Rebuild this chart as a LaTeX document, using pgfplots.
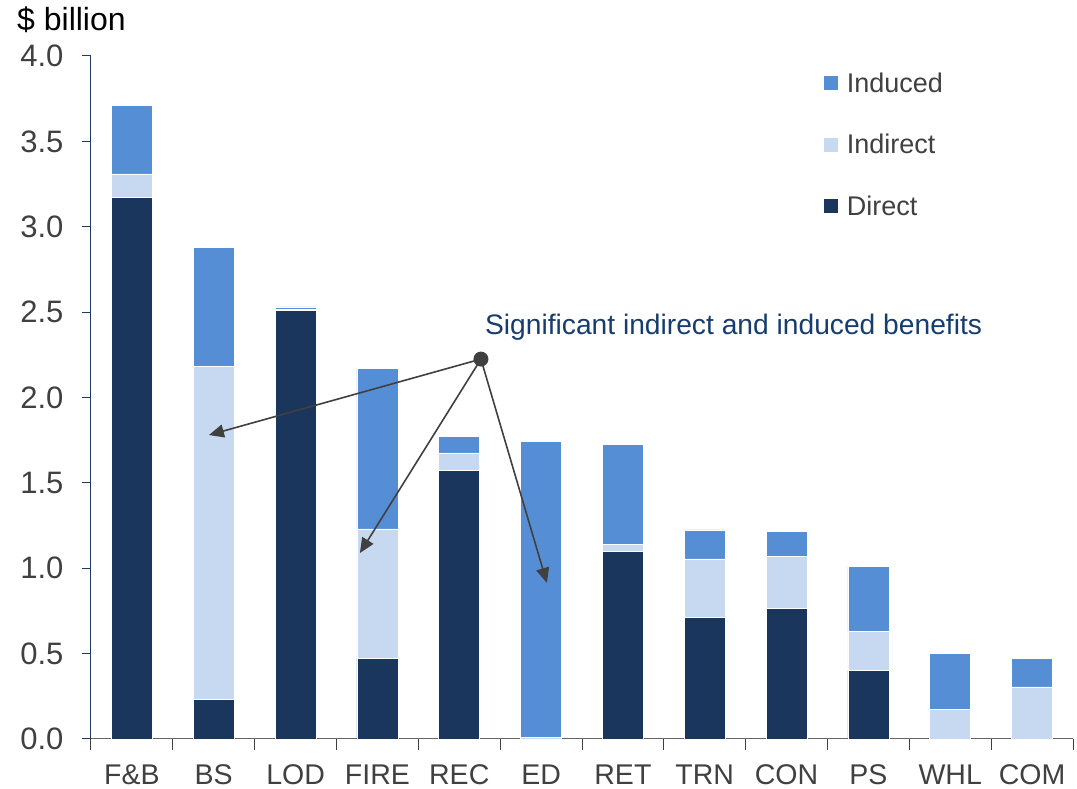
\documentclass[border=0pt]{standalone}
\usepackage{pgfplots}
\pgfplotsset{compat=1.18}
\usepackage{pgfplotstable}
\usepackage{fontspec}
\setmainfont{Liberation Sans}
\usetikzlibrary{arrows.meta}
\definecolor{cDirect}{RGB}{26,54,93}
\definecolor{cIndirect}{RGB}{198,217,240}
\definecolor{cInduced}{RGB}{85,142,213}
\definecolor{cText}{RGB}{64,64,64}
\definecolor{cAnn}{RGB}{23,60,110}
\definecolor{cYaxis}{RGB}{31,58,95}
\pgfplotstableread{
x direct indirect induced
0 3.17 0.14 0.40
1 0.23 1.95 0.70
2 2.51 0.005 0.015
3 0.47 0.76 0.94
4 1.575 0.10 0.095
5 0 0.01 1.735
6 1.10 0.04 0.585
7 0.71 0.345 0.17
8 0.765 0.305 0.145
9 0.40 0.23 0.38
10 0 0.175 0.325
11 0 0.305 0.165
}\datatable
\begin{document}
\begin{tikzpicture}
\begin{axis}[
  at={(0,0)}, anchor=south west,
  scale only axis, width=982pt, height=683pt,
  ybar stacked, bar width=0.5,
  xmin=-0.5, xmax=11.5, ymin=0, ymax=4,
  axis x line*=bottom, axis y line*=left,
  x axis line style={draw=gray!80!black, line width=1pt, -},
  y axis line style={draw=cYaxis, line width=1pt, -},
  xtick={0,...,11},
  xticklabels={F\&B,BS,LOD,FIRE,REC,ED,RET,TRN,CON,PS,WHL,COM},
  major x tick style={draw=none},
  minor xtick={-0.5,0.5,...,11.5},
  minor x tick style={draw=cText, line width=1pt},
  minor tick length=11pt,
  ytick={0,0.5,...,4},
  y tick style={draw=cYaxis, line width=1pt},
  major tick length=9pt,
  tick align=outside,
  y tick label style={/pgf/number format/fixed, /pgf/number format/fixed zerofill, /pgf/number format/precision=1},
  /pgf/number format/assume math mode=true,
  ticklabel style={text=cText},
  xticklabel style={yshift=-13pt, font=\fontsize{28.5}{33}\selectfont},
  yticklabel style={xshift=-15pt, font=\fontsize{31}{36}\selectfont},
  legend style={draw=none, fill=none, at={(0.743,0.982)}, anchor=north west,
    font=\fontsize{27}{32}\selectfont, text=cText, row sep=36.5pt,
    legend cell align=left},
  legend image code/.code={\fill[#1, draw=none] (0pt,-7pt) rectangle (14pt,7pt); \path[draw=none, fill=none] (0pt,0pt) -- (21pt,0pt);},
  reverse legend,
]
\addplot[fill=cDirect, draw=white, line width=0.6pt] table[x=x, y=direct] {\datatable};
\addplot[fill=cIndirect, draw=white, line width=0.6pt] table[x=x, y=indirect] {\datatable};
\addplot[fill=cInduced, draw=white, line width=0.6pt] table[x=x, y=induced] {\datatable};
\legend{Direct,Indirect,Induced}
\coordinate (src) at (axis cs:4.265,2.225);
\coordinate (t1) at (axis cs:0.941,1.780);
\coordinate (t2) at (axis cs:2.786,1.089);
\coordinate (t3) at (axis cs:5.071,0.914);
\coordinate (lab) at (axis cs:4.314,2.413);
\end{axis}
\draw[draw=cText, line width=1.6pt, -{Triangle[length=15pt,width=13pt]}] (src) -- (t1);
\draw[draw=cText, line width=1.6pt, -{Triangle[length=15pt,width=13pt]}] (src) -- (t2);
\draw[draw=cText, line width=1.6pt, -{Triangle[length=15pt,width=13pt]}] (src) -- (t3);
\fill[cText] (src) circle (7.5pt);
\node[anchor=west, inner sep=0pt, text=cAnn, font=\fontsize{28.2}{33}\selectfont] at (lab) {Significant indirect and induced benefits};
\node[anchor=west, inner sep=0pt, font=\fontsize{32}{38}\selectfont] at (-74pt,719pt) {\$ billion};
\pgfresetboundingbox
\path[use as bounding box] (-91pt,-50pt) rectangle (986pt,739pt);
\end{tikzpicture}
\end{document}
